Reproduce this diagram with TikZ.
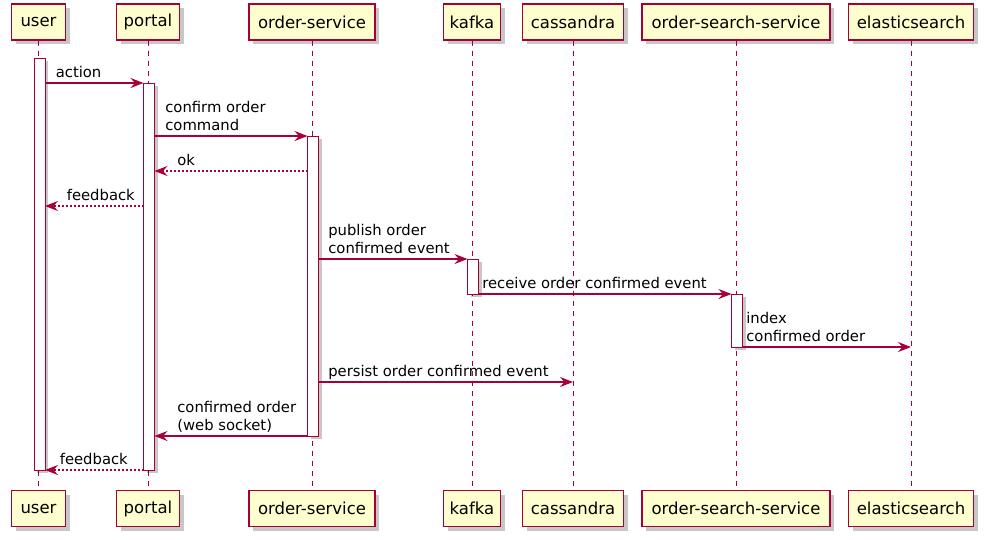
\documentclass[tikz,border=0pt]{standalone}
\usepackage{fontspec}
\setmainfont{DejaVu Sans}
\usetikzlibrary{arrows.meta, shadows}

\definecolor{umlred}{HTML}{A80036}
\definecolor{umlfill}{HTML}{FEFECE}

\tikzset{
  actor/.style={draw=umlred, fill=umlfill, line width=1.4pt, minimum height=36pt, inner sep=0pt,
    font=\fontsize{16.5}{19}\selectfont,
    drop shadow={shadow xshift=4pt, shadow yshift=-4pt, fill=black, opacity=.22}},
  lifeline/.style={umlred, line width=1pt, dash pattern=on 5pt off 5pt},
  bar/.style={draw=umlred, fill=white, line width=1pt, minimum width=11pt, inner sep=0pt,
    outer sep=0pt, anchor=north,
    drop shadow={shadow xshift=3pt, shadow yshift=-3pt, fill=black, opacity=.22}},
  msg/.style={umlred, line width=1.6pt, -{Stealth[length=13pt, width=10pt, inset=4.5pt]}},
  reply/.style={msg, dash pattern=on 2pt off 2pt},
  lbl/.style={text=black, font=\fontsize{14.8}{18}\selectfont, align=left, inner sep=0pt,
    anchor=base west, yshift=6pt},
}

\begin{document}
\begin{tikzpicture}[x=1pt, y=-1pt]

\useasboundingbox (0,0) rectangle (984,539);

% participants, top and bottom, with their lifelines
\foreach \n/\x/\w/\t in {user/38.5/54/user, portal/148/63/portal, order/312/126/order-service,
    kafka/472/57/kafka, cass/573/101/cassandra, search/736/188/order-search-service,
    elastic/911/125/elasticsearch} {
  \node[actor, minimum width=\w pt] (t\n) at (\x,22) {\t};
  \node[actor, minimum width=\w pt] (b\n) at (\x,508.5) {\t};
  \draw[lifeline] (t\n) -- (b\n);
}

% activations
\node[bar, minimum height=412pt] (auser) at (39.5,58) {};
\node[bar, minimum height=387pt] (aportal) at (149,83) {};
\node[bar, minimum height=300pt] (aorder) at (313,136) {};
\node[bar, minimum height=35pt] (akafka) at (473,259) {};
\node[bar, minimum height=53pt] (asearch) at (737,294) {};

% messages
\draw[msg] (auser.east |- 0,83) -- (aportal.north west)
  node[lbl, at start, xshift=10pt] (l1) {action};
\draw[msg] (aportal.east |- 0,136) -- (aorder.north west)
  node[lbl, at start, xshift=10pt] (l2) {confirm order\\command};
\draw[reply] (aorder.west |- 0,171) -- (aportal.east |- 0,171)
  node[lbl, at end, xshift=22pt] (l3) {ok};
\draw[reply] (aportal.west |- 0,206) -- (auser.east |- 0,206)
  node[lbl, at end, xshift=21pt] (l4) {feedback};
\draw[msg] (aorder.east |- 0,259) -- (akafka.north west)
  node[lbl, at start, xshift=9pt] (l5) {publish order\\confirmed event};
\draw[msg] (akafka.south east) -- (asearch.north west)
  node[lbl, at start, xshift=3pt] (l6) {receive order confirmed event};
\draw[msg] (asearch.south east) -- (telastic |- 0,347)
  node[lbl, at start, xshift=3pt] (l7) {index\\confirmed order};
\draw[msg] (aorder.east |- 0,382) -- (tcass |- 0,382)
  node[lbl, at start, xshift=9pt] (l8) {persist order confirmed event};
\draw[msg] (aorder.south west) -- (aportal.east |- 0,436)
  node[lbl, at end, xshift=22pt] (l9) {confirmed order\\(web socket)};
\draw[reply] (aportal.south west) -- (auser.south east)
  node[lbl, at end, xshift=14pt] (l10) {feedback};

\end{tikzpicture}
\end{document}
